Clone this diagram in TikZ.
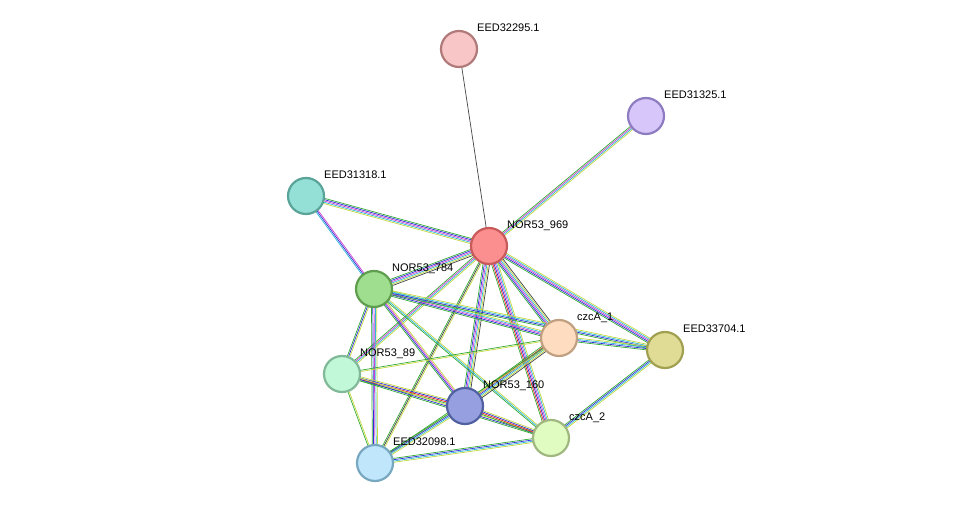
\documentclass[tikz,border=0pt]{standalone}
\usepackage{fontspec}
\setmainfont{Liberation Sans}
\usetikzlibrary{calc}
\definecolor{cg}{HTML}{33AA33}
\definecolor{cr}{HTML}{E82020}
\definecolor{cb}{HTML}{3030D8}
\definecolor{cc}{HTML}{30B8D8}
\definecolor{cm}{HTML}{D040D0}
\definecolor{cy}{HTML}{C4D840}
\definecolor{ck}{HTML}{444444}
\newcommand\medge[3]{%
  \gdef\ncol{0}%
  \foreach \c in {#3}{\pgfmathparse{int(\ncol+1)}\xdef\ncol{\pgfmathresult}}%
  \foreach \c [count=\i] in {#3}{%
    \pgfmathsetmacro\off{(\i-(\ncol+1)/2)*1.3}%
    \draw[draw=\c, line width=0.7pt] ($(#1)!\off pt!90:(#2)$) -- ($(#2)!\off pt!-90:(#1)$);}}
\tikzset{prot/.style={circle, minimum size=36pt, inner sep=0pt, line width=2.2pt},
  lab/.style={anchor=base west, font=\fontsize{11}{11}\selectfont, inner sep=0pt}}
\newcommand\pnode[5]{\definecolor{fc#1}{HTML}{#4}\definecolor{dc#1}{HTML}{#5}%
  \node[prot, fill=fc#1, draw=dc#1] (#1) at (#2) {};
  \node[lab] at ($(#2)+(18,-17)$) {#3};}
\begin{document}
\begin{tikzpicture}[x=1pt,y=-1pt]
\useasboundingbox (0,0) rectangle (975,510);
\coordinate (a) at (459,49);
\coordinate (b) at (646,116);
\coordinate (c) at (306,196);
\coordinate (d) at (489,246);
\coordinate (e) at (374,289);
\coordinate (f) at (559,338);
\coordinate (g) at (665,350);
\coordinate (h) at (342,374);
\coordinate (i) at (465,406);
\coordinate (j) at (551,438);
\coordinate (k) at (375,463);
\medge{d}{a}{ck}
\medge{d}{b}{cy,cc,cm,cg}
\medge{d}{c}{cg,cb,cm,cc,cy}
\medge{c}{e}{cc,cb,cm}
\medge{d}{e}{cg,cb,cm,cc,cy,ck}
\medge{d}{f}{cg,cb,cm,cc,cy,ck}
\medge{d}{g}{cg,cb,cm,cc,cy}
\medge{d}{h}{cg,cm,cc,cy}
\medge{d}{i}{cg,cb,cm,cc,cy,ck}
\medge{d}{j}{cg,cr,cb,cm,cc,cy}
\medge{d}{k}{cg,ck,cy}
\medge{e}{f}{cg,cb,cm,cc,cy}
\medge{e}{g}{cg,cb,cc,cy}
\medge{e}{h}{cg,cb,cy}
\medge{e}{i}{cg,cb,cm,cy}
\medge{e}{j}{cg,cc,cy}
\medge{e}{k}{cg,cb,cm,cc,cy}
\medge{f}{g}{cg,cb,cc,cy}
\medge{f}{i}{cg,cr,cb,cc,cy,ck}
\medge{f}{h}{cg,cy}
\medge{f}{k}{cg,cy}
\medge{g}{j}{cg,cb,cc,cy}
\medge{h}{i}{cg,cr,cb,cy}
\medge{h}{j}{cg,cb,cy}
\medge{h}{k}{cg,cy}
\medge{i}{j}{cg,cr,cb,cy}
\medge{i}{k}{cg,cb,cc,cy}
\medge{j}{k}{cg,cb,cc,cy}
\pnode{A}{a}{EED32295.1}{F8C6C6}{B07A7A}
\pnode{B}{b}{EED31325.1}{D6C6FA}{8E7CC0}
\pnode{C}{c}{EED31318.1}{94E0D6}{5AA398}
\pnode{D}{d}{NOR53\_969}{FB8E8E}{C85A5A}
\pnode{E}{e}{NOR53\_784}{9EDE8E}{5E9E4E}
\pnode{F}{f}{czcA\_1}{FDDCC0}{C0A080}
\pnode{G}{g}{EED33704.1}{E0DC96}{A0A050}
\pnode{H}{h}{NOR53\_89}{C0F8D8}{80B898}
\pnode{I}{i}{NOR53\_160}{96A0E0}{5060A0}
\pnode{J}{j}{czcA\_2}{E0FCC0}{A0B880}
\pnode{K}{k}{EED32098.1}{C0E6FC}{78A8C0}
\end{tikzpicture}
\end{document}
